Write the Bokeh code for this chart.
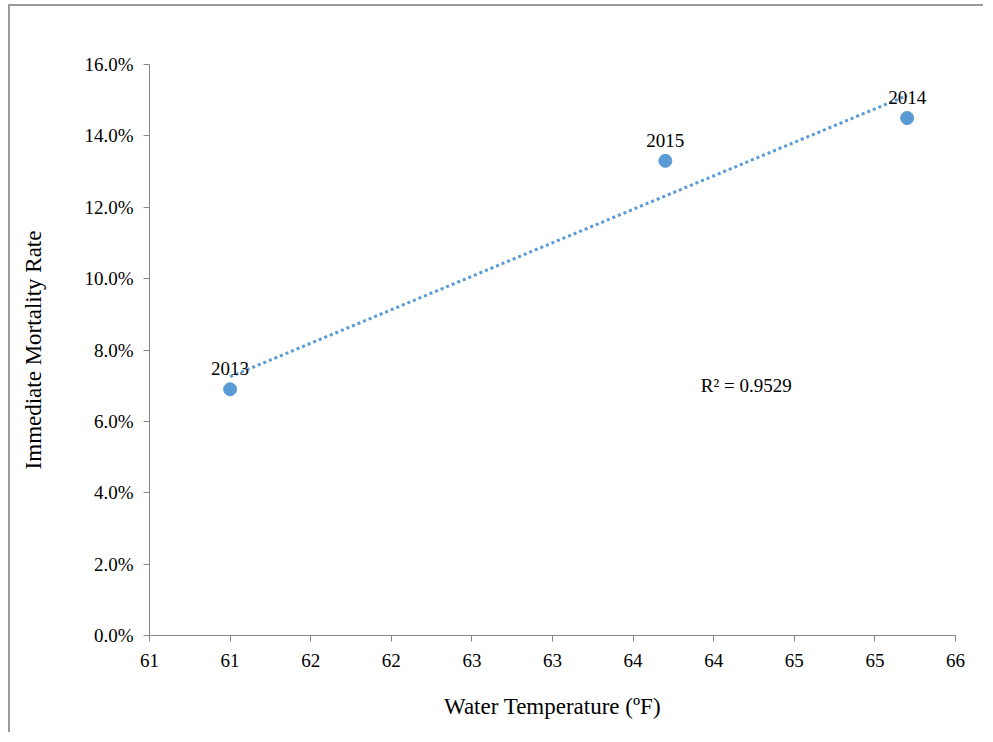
import numpy as np
from bokeh.plotting import figure
from bokeh.models import ColumnDataSource, FixedTicker, NumeralTickFormatter, Label
from bokeh.embed import file_html
from bokeh.resources import INLINE

# Data
years = ["2013", "2015", "2014"]
temperature = [61.0, 63.7, 65.2]
mortality = [0.069, 0.133, 0.145]
r2_label = "R\u00b2 = 0.9529"

x_ticks = [60.5, 61.0, 61.5, 62.0, 62.5, 63.0, 63.5, 64.0, 64.5, 65.0, 65.5]
x_tick_labels = ["61", "61", "62", "62", "63", "63", "64", "64", "65", "65", "66"]
y_ticks = [0.0, 0.02, 0.04, 0.06, 0.08, 0.10, 0.12, 0.14, 0.16]

FONT = "Liberation Serif"
BLUE = "#5B9BD5"
AXIS = "#868686"

p = figure(width=975, height=728, output_backend="svg", toolbar_location=None,
           x_range=(60.5, 65.5), y_range=(0.0, 0.16),
           min_border_left=139, min_border_right=30, min_border_top=58, min_border_bottom=99)
p.outline_line_color = None
p.xgrid.visible = False
p.ygrid.visible = False

# Linear trendline (least squares through the points)
coef = np.polyfit(temperature, mortality, 1)
tx = [min(temperature), max(temperature)]
ty = [coef[0] * t + coef[1] for t in tx]
p.line(tx, ty, line_color=BLUE, line_width=3, line_dash="3 3")

src = ColumnDataSource(dict(x=temperature, y=mortality, year=years))
p.scatter("x", "y", source=src, size=13, fill_color=BLUE, line_color=BLUE)
p.text("x", "y", text="year", source=src, text_align="center", text_baseline="bottom",
       y_offset=-14, text_font=FONT, text_font_size="19px", text_color="#000000")

p.add_layout(Label(x=63.92, y=0.070, text=r2_label, text_font=FONT, text_font_size="19px",
                   text_color="#000000", text_baseline="middle"))

p.xaxis.axis_line_color = AXIS
p.yaxis.axis_line_color = AXIS
p.xaxis.major_tick_line_color = AXIS
p.yaxis.major_tick_line_color = AXIS
p.xaxis.minor_tick_line_color = None
p.yaxis.minor_tick_line_color = None
p.xaxis.major_tick_in = 0
p.yaxis.major_tick_in = 0
p.xaxis.major_tick_out = 6
p.yaxis.major_tick_out = 6
p.xaxis.major_label_text_font = FONT
p.yaxis.major_label_text_font = FONT
p.xaxis.major_label_text_font_size = "19px"
p.yaxis.major_label_text_font_size = "19px"
p.xaxis.major_label_text_color = "#000000"
p.yaxis.major_label_text_color = "#000000"
p.xaxis.axis_label_text_font = FONT
p.yaxis.axis_label_text_font = FONT
p.xaxis.axis_label_text_font_size = "23px"
p.yaxis.axis_label_text_font_size = "23px"
p.xaxis.axis_label_text_font_style = "normal"
p.yaxis.axis_label_text_font_style = "normal"
p.xaxis.axis_label_text_color = "#000000"
p.yaxis.axis_label_text_color = "#000000"

p.xaxis.ticker = FixedTicker(ticks=x_ticks)
p.xaxis.major_label_overrides = {t: l for t, l in zip(x_ticks, x_tick_labels)}
p.xaxis.axis_label = "Water Temperature (\u00baF)"
p.xaxis.major_label_standoff = 12
p.xaxis.axis_label_standoff = 24

p.yaxis.ticker = FixedTicker(ticks=y_ticks)
p.yaxis.formatter = NumeralTickFormatter(format="0.0%")
p.yaxis.axis_label = "Immediate Mortality Rate"
p.yaxis.major_label_standoff = 10
p.yaxis.axis_label_standoff = 35

p.styles = {"border-left": "2px solid #9a9a9a", "border-top": "2px solid #9a9a9a",
            "margin-left": "8px", "margin-top": "4px"}

open("out.html", "w").write(file_html(p, INLINE))
